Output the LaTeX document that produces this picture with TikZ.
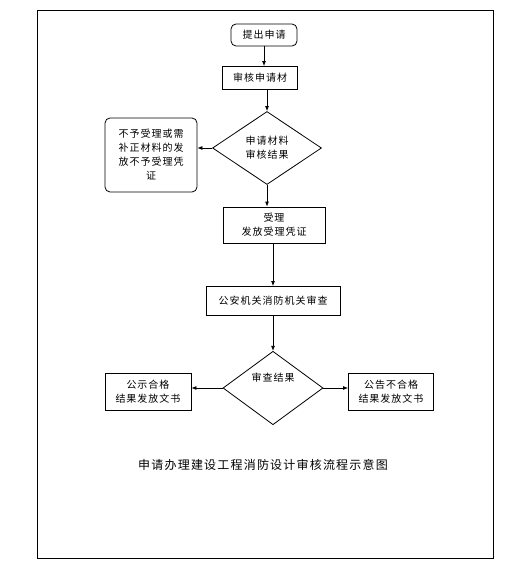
\documentclass[tikz,border=0pt]{standalone}
\usepackage{fontspec}
\newfontfamily\cjk[LetterSpace=10]{Noto Sans CJK SC}
\usetikzlibrary{arrows.meta,shapes.geometric}
\tikzset{
  box/.style={draw, line width=0.8pt, align=center, inner sep=1pt},
  rbox/.style={box, rounded corners=5pt},
  judgebox/.style={draw, line width=0.8pt, diamond, align=center, inner sep=0pt},
  flow/.style={line width=0.8pt, -{Latex[length=5pt,width=4pt]}}
}
\begin{document}
\begin{tikzpicture}[x=1pt,y=-1pt,every node/.style={font=\cjk\fontsize{10}{14}\selectfont}]
    \useasboundingbox (0,0) rectangle (521,577);
    \draw[line width=0.8pt] (37.5,10.5) rectangle (493,558.5);

    \node[rbox, minimum width=66pt, minimum height=22pt] (apply) at (264,35) {提出申请};
    \node[box, minimum width=75pt, minimum height=23pt] (check) at (260,78) {审核申请材};
    \node[judgebox, minimum width=109pt, minimum height=73pt] (judge) at (267,148) {申请材料\\审核结果};
    \node[rbox, minimum width=92pt, minimum height=74pt] (reject) at (151,155)
      {不予受理或需\\补正材料的发\\放不予受理凭\\证};
    \node[box, minimum width=102pt, minimum height=36pt] (accept) at (274,225) {受理\\发放受理凭证};
    \node[box, minimum width=134pt, minimum height=29pt] (review) at (273,301) {公安机关消防机关审查};
    \node[judgebox, minimum width=100pt, minimum height=58pt] (result) at (273,388) {审查结果\\[8pt]};
    \node[box, minimum width=86pt, minimum height=37pt] (pass) at (148,392) {公示合格\\结果发放文书};
    \node[box, minimum width=85pt, minimum height=37pt] (fail) at (391,392) {公告不合格\\结果发放文书};
    \node[font=\cjk\fontsize{12}{14}\selectfont] (title) at (263,465) {申请办理建设工程消防设计审核流程示意图};

    \draw[flow] (apply.south) -- (apply.south |- check.north);
    \draw[flow] (judge.north |- check.south) -- (judge.north);
    \draw[flow] (judge.west) -- (reject.east |- judge.west);
    \draw[flow] (judge.south) -- (judge.south |- accept.north);
    \draw[flow] (review.north |- accept.south) -- (review.north);
    \draw[flow] (review.south) -- (result.north);
    \draw[flow] (result.west) -- (pass.east |- result.west);
    \draw[flow] (result.east) -- (fail.west |- result.east);
  \end{tikzpicture}
\end{document}
